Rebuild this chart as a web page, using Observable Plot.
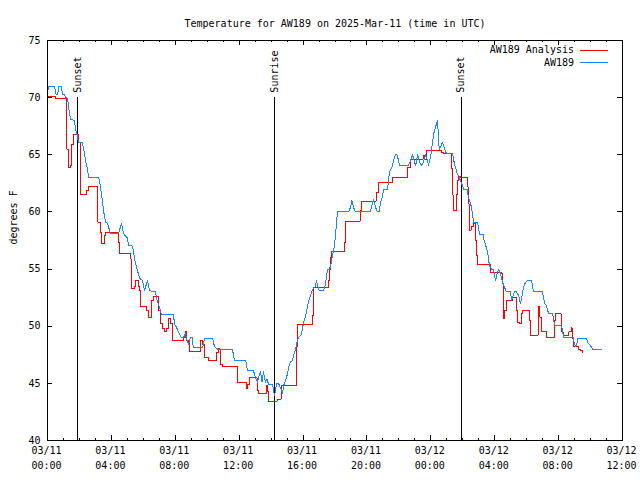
<!DOCTYPE html>
<html>
<head>
<meta charset="utf-8">
<script src="https://cdn.jsdelivr.net/npm/d3@7"></script>
<script src="https://cdn.jsdelivr.net/npm/@observablehq/plot@0.6"></script>
<style>
  html, body { margin: 0; padding: 0; background: white; }
</style>
</head>
<body>
<div id="chart"></div>
<script>
// ---- Data (hours since 2025-03-11 00:00 UTC, degrees F) ----
const titleText = "Temperature for AW189 on 2025-Mar-11 (time in UTC)";
const yLabel = "degrees F";
const seriesNames = ["AW189 Analysis", "AW189"];
const seriesColors = ["#ff0000", "#1a85ff"];

const analysisHours = [0.00,0.50,1.22,1.31,1.44,1.53,1.60,1.94,2.05,2.47,2.57,3.16,3.32,3.41,3.54,3.63,4.45,4.51,5.17,5.23,5.29,5.45,5.54,5.70,5.76,5.82,6.20,6.32,6.51,6.61,6.95,7.08,7.23,7.33,7.45,7.55,7.73,7.83,8.52,8.61,8.70,8.80,8.89,9.61,9.71,9.80,10.08,10.58,10.71,10.80,10.96,11.87,12.43,12.55,12.65,13.12,13.18,13.68,13.78,13.84,14.37,14.62,14.68,15.59,15.62,15.65,16.59,16.66,17.59,17.63,17.72,17.78,18.57,18.66,19.57,19.66,20.57,20.73,21.60,22.57,22.73,23.51,23.61,23.73,24.67,24.80,25.27,25.33,25.39,25.58,25.67,25.74,25.83,26.27,26.33,26.39,26.42,26.52,26.64,26.80,26.86,26.93,27.74,28.43,28.49,28.54,28.57,28.64,28.74,29.09,29.34,29.43,29.52,29.68,29.77,30.15,30.24,30.71,30.76,30.83,30.90,31.25,31.72,31.81,32.15,32.21,32.28,32.65,32.78,32.84,32.94,33.25,33.38,33.50];
const analysisTemps = [70.1,69.9,65.5,63.9,64.1,65.9,66.8,66.1,61.5,61.9,62.2,59.1,58.2,57.2,57.9,58.2,57.35,56.4,55.9,54.0,53.3,53.5,54.0,53.5,53.1,51.7,51.4,50.8,52.25,52.6,51.4,50.2,49.8,49.5,49.8,50.7,50.2,48.75,49.0,49.5,48.75,48.6,47.8,48.75,48.4,47.3,47.0,47.7,48.05,46.65,46.5,45.1,44.55,44.9,45.5,44.4,44.1,44.8,44.3,43.45,43.6,44.2,44.85,46.3,48.2,50.15,50.9,53.35,54.0,55.0,56.0,56.56,57.35,59.2,60.1,60.95,61.7,62.6,63.0,63.9,64.6,64.9,64.6,65.4,65.2,65.1,63.8,61.5,60.1,61.5,62.75,63.1,63.0,62.2,60.7,59.25,58.4,58.7,59.0,57.5,56.2,55.4,54.7,54.6,53.7,51.7,50.65,51.4,52.25,52.5,51.4,50.35,50.2,51.1,51.4,50.5,49.2,49.9,51.7,50.8,49.5,49.0,50.5,51.1,50.3,49.5,49.2,49.5,49.85,48.9,48.2,48.0,47.9,47.7];

const stationHours = [0.00,0.06,0.44,0.53,0.63,0.72,0.85,0.94,1.06,1.13,1.22,1.28,1.35,1.44,1.69,1.75,1.86,1.94,2.17,2.24,2.32,2.38,2.49,2.59,3.21,3.32,3.42,3.51,3.63,3.76,3.94,4.45,4.63,4.76,5.01,5.07,5.32,5.51,5.63,5.76,5.95,6.07,6.26,6.39,6.76,6.89,7.01,7.14,7.89,7.95,8.08,8.20,8.39,8.51,8.64,8.77,8.83,8.95,9.05,9.14,9.70,9.77,9.83,10.33,10.46,10.64,11.58,11.65,11.71,12.40,12.46,12.52,12.90,13.02,13.15,13.24,13.34,13.43,13.52,13.65,13.74,13.84,14.09,14.15,14.21,14.34,14.46,14.59,14.71,14.78,14.90,15.03,15.09,15.21,15.34,15.40,15.53,15.65,15.72,15.90,15.97,16.09,16.22,16.28,16.40,16.53,16.65,16.75,16.84,16.94,17.03,17.28,17.37,17.47,17.53,17.66,17.78,17.84,17.97,18.03,18.09,18.16,18.85,18.97,19.06,19.16,19.28,20.22,20.35,20.41,20.54,20.66,20.76,20.85,20.97,21.04,21.29,21.35,21.41,21.60,21.66,21.79,21.88,21.98,22.04,22.60,22.73,22.85,22.92,23.04,23.10,23.17,23.29,23.42,23.54,23.67,23.79,23.85,23.98,24.10,24.17,24.29,24.42,24.46,24.48,24.54,24.64,24.73,24.86,24.98,25.36,25.42,25.54,25.67,25.86,25.98,26.05,26.30,26.33,26.42,26.55,26.61,26.67,26.92,26.98,27.05,27.30,27.33,27.43,27.55,27.61,27.67,27.80,27.92,28.05,28.17,28.24,28.36,28.49,28.61,28.74,28.99,29.05,29.14,29.24,29.36,29.49,29.61,29.74,29.80,29.93,30.05,30.30,30.37,30.43,30.99,31.05,31.12,31.24,31.30,31.37,31.62,31.68,31.75,32.18,32.24,32.31,32.93,32.96,33.06,33.15,33.18,33.56,33.75,33.81,34.00,34.12,34.69];
const stationTemps = [70.3,71.0,71.0,70.3,70.3,71.0,71.0,70.3,70.3,70.0,70.0,69.7,68.9,68.1,68.0,67.3,66.7,66.1,66.1,65.65,65.1,64.5,63.8,63.0,63.0,62.2,61.1,60.1,59.1,59.0,58.1,58.1,59.0,58.1,57.7,57.1,57.0,55.5,54.9,54.2,54.0,53.1,54.0,53.1,53.0,52.1,51.7,51.0,51.0,50.2,49.9,49.5,49.0,49.0,49.35,48.6,48.4,49.0,49.0,48.1,48.1,48.4,48.95,48.95,48.2,48.0,48.0,47.4,47.0,47.0,46.65,46.1,46.1,45.5,45.1,45.6,46.0,45.1,46.0,45.1,45.4,44.9,44.9,44.4,43.9,45.0,45.0,44.6,44.1,44.8,45.25,45.85,46.4,46.85,47.0,47.4,48.0,48.75,49.0,49.3,49.9,50.6,51.2,51.8,52.4,53.0,53.3,53.4,54.0,53.4,53.1,53.1,53.5,54.3,55.0,55.0,55.6,56.2,57.1,57.9,59.0,60.0,60.0,60.4,61.0,60.4,60.0,60.0,60.85,61.05,60.4,60.0,60.0,60.85,61.3,62.0,62.0,62.75,63.5,64.05,64.5,65.0,65.0,64.5,64.05,64.05,64.5,65.0,64.7,64.05,64.4,65.0,64.4,64.05,64.4,65.0,64.5,64.05,64.8,66.0,66.8,67.4,68.0,67.0,66.0,65.5,65.8,66.1,65.5,65.1,65.1,64.6,63.9,63.3,62.75,62.3,62.0,62.0,61.4,61.0,60.4,59.8,59.1,59.1,58.7,58.0,58.0,57.5,57.1,56.5,55.9,55.3,55.0,55.0,54.0,54.7,55.0,54.6,53.85,53.4,53.0,53.0,52.25,52.6,53.0,53.0,52.7,52.0,52.85,53.4,53.85,54.0,54.0,53.5,53.0,53.0,52.55,52.0,51.8,51.5,51.1,51.1,50.65,50.1,50.1,49.6,49.0,49.0,48.6,48.2,48.5,48.95,48.95,48.9,48.6,48.3,48.0,48.0];

const eventLabels = ["Sunset", "Sunrise", "Sunset"];
const eventHours = [1.90, 14.23, 25.90];
const eventTop = 70;

const xTickHours = [0, 4, 8, 12, 16, 20, 24, 28, 32, 36];
const xTickDates = ["03/11","03/11","03/11","03/11","03/11","03/11","03/12","03/12","03/12","03/12"];
const xTickTimes = ["00:00","04:00","08:00","12:00","16:00","20:00","00:00","04:00","08:00","12:00"];
const xMinorHours = d3.range(0, 37, 1);
const yTicks = [40, 45, 50, 55, 60, 65, 70, 75];
const yDomain = [40, 75];
const xDomainHours = [0, 36];

// ---- Build ----
const T0 = Date.UTC(2025, 2, 11);
const toDate = h => new Date(T0 + h * 3600e3);

const analysis = analysisHours.map((h, i) => ({t: toDate(h), v: analysisTemps[i]}));
const station = stationHours.map((h, i) => ({t: toDate(h), v: stationTemps[i]}));
const events = eventLabels.map((l, i) => ({label: l, t: toDate(eventHours[i])}));
const xTicks = xTickHours.map((h, i) => ({t: toDate(h), d: xTickDates[i], tm: xTickTimes[i]}));
const minor = xMinorHours.map(toDate);

const W = 640, H = 480, mL = 47, mR = 18, mT = 40, mB = 40;
const fw = W - mL - mR, fh = H - mT - mB;

const chart = Plot.plot({
  width: W, height: H,
  marginLeft: mL, marginRight: mR, marginTop: mT, marginBottom: mB,
  x: {type: "utc", domain: xDomainHours.map(toDate), axis: null},
  y: {domain: yDomain, axis: null},
  style: {fontFamily: "'DejaVu Sans Mono', monospace", fontSize: "10px", background: "white", color: "black"},
  marks: [
    // minor/major x ticks, bottom and top
    Plot.ruleX(minor, {insetTop: fh - 2, stroke: "black", shapeRendering: "crispEdges"}),
    Plot.ruleX(minor, {insetBottom: fh - 2, stroke: "black", shapeRendering: "crispEdges"}),
    Plot.ruleX(xTicks, {x: "t", insetTop: fh - 5, stroke: "black", shapeRendering: "crispEdges"}),
    Plot.ruleX(xTicks, {x: "t", insetBottom: fh - 5, stroke: "black", shapeRendering: "crispEdges"}),
    // y ticks, left and right
    Plot.ruleY(yTicks, {insetRight: fw - 5, stroke: "black", shapeRendering: "crispEdges"}),
    Plot.ruleY(yTicks, {insetLeft: fw - 5, stroke: "black", shapeRendering: "crispEdges"}),
    // tick labels
    Plot.text(yTicks, {y: d => d, frameAnchor: "left", dx: -7, textAnchor: "end"}),
    Plot.text(xTicks, {x: "t", text: "d", frameAnchor: "bottom", dy: 13, dx: -1}),
    Plot.text(xTicks, {x: "t", text: "tm", frameAnchor: "bottom", dy: 28, dx: -1}),
    // titles
    Plot.text([titleText], {frameAnchor: "top", dy: -21}),
    Plot.text([yLabel], {frameAnchor: "left", dx: -34, dy: 4, rotate: -90}),
    // sunrise / sunset
    Plot.ruleX(events, {x: "t", y1: yDomain[0], y2: eventTop, stroke: "black", shapeRendering: "crispEdges"}),
    Plot.text(events, {x: "t", y: eventTop, text: "label", rotate: -90, textAnchor: "start", lineAnchor: "middle", dy: -5}),
    // data
    Plot.line(analysis, {x: "t", y: "v", stroke: seriesColors[0], strokeWidth: 1, curve: "step-after", shapeRendering: "crispEdges"}),
    Plot.line(station, {x: "t", y: "v", stroke: seriesColors[1], strokeWidth: 1, shapeRendering: "crispEdges"}),
    Plot.frame({stroke: "black", shapeRendering: "crispEdges"})
  ]
});

// legend (inside top-right)
const svg = d3.select(chart);
const lg = svg.append("g")
  .attr("font-family", "'DejaVu Sans Mono', monospace")
  .attr("font-size", 10);
seriesNames.forEach((name, i) => {
  const yy = 50 + i * 12.5;
  lg.append("text").attr("x", 574).attr("y", yy).attr("dy", "0.32em")
    .attr("text-anchor", "end").attr("fill", "black").text(name);
  lg.append("line").attr("x1", 580).attr("x2", 608).attr("y1", yy).attr("y2", yy)
    .attr("stroke", seriesColors[i]).attr("stroke-width", 1).attr("shape-rendering", "crispEdges");
});

document.getElementById("chart").appendChild(chart);
</script>
</body>
</html>
